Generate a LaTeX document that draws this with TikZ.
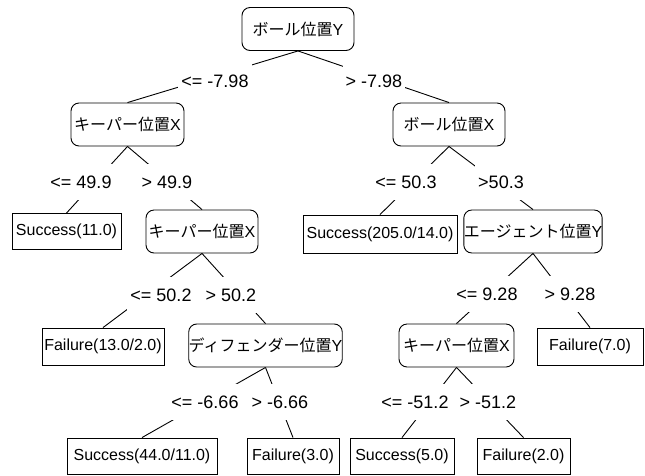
\documentclass[tikz,border=0pt]{standalone}
\usepackage{fontspec}
\setmainfont{Liberation Sans}
\newfontfamily\jp{Noto Sans CJK JP}
\begin{document}
\begin{tikzpicture}[x=1pt,y=-1pt,
  base/.style={draw=black, line width=0.9pt, fill=white, font=\fontsize{16}{18}\selectfont, inner sep=0pt},
  test/.style={base, rounded corners=8pt, minimum height=43pt},
  leaf/.style={base, minimum height=36pt},
  cond/.style={fill=white, font=\fontsize{18}{20}\selectfont, inner xsep=3pt, inner ysep=0pt, minimum height=36pt},
  edge/.style={line width=0.9pt, black}]
\useasboundingbox (0,0) rectangle (645,475);
% internal nodes
\node[test, minimum width=112pt] (root) at (298,29) {{\jp ボール位置}Y};
\node[test, minimum width=113pt] (n1) at (127.5,124.5) {{\jp キーパー位置}X};
\node[test, minimum width=112pt] (n2) at (449,124.5) {{\jp ボール位置}X};
\node[test, minimum width=112pt] (n3) at (202,231.5) {{\jp キーパー位置}X};
\node[test, minimum width=130pt] (n4) at (533,231.5) {{\jp エージェント位置}Y};
\node[test, minimum width=149pt] (n5) at (265.5,345.5) {{\jp ディフェンダー位置}Y};
\node[test, minimum width=115pt] (n6) at (456.5,345.5) {{\jp キーパー位置}X};
% leaves
\node[leaf, minimum width=109pt] (l1) at (66.5,231.5) {Success(11.0)};
\node[leaf, minimum width=154pt, minimum height=38pt] (l2) at (380,234) {Success(205.0/14.0)};
\node[leaf, minimum width=122pt, minimum height=37pt] (l3) at (103,346.5) {Failure(13.0/2.0)};
\node[leaf, minimum width=106pt, minimum height=37pt] (l4) at (590,346.5) {Failure(7.0)};
\node[leaf, minimum width=150pt, minimum height=36pt] (l5) at (142,456) {Success(44.0/11.0)};
\node[leaf, minimum width=92pt, minimum height=36pt] (l6) at (293,456) {Failure(3.0)};
\node[leaf, minimum width=104pt, minimum height=36pt] (l7) at (402,456) {Success(5.0)};
\node[leaf, minimum width=93pt, minimum height=36pt] (l8) at (523.5,456) {Failure(2.0)};
% connectors
\draw[edge] (root.south) -- (n1.north);
\draw[edge] (root.south) -- (n2.north);
\draw[edge] (n1.south) -- (l1.north);
\draw[edge] (n1.south) -- (n3.north);
\draw[edge] (n2.south) -- (l2.north);
\draw[edge] (n2.south) -- (n4.north);
\draw[edge] (n3.south) -- (l3.north);
\draw[edge] (n3.south) -- (n5.north);
\draw[edge] (n4.south) -- (n6.north);
\draw[edge] (n4.south) -- (l4.north);
\draw[edge] (n5.south) -- (l5.north);
\draw[edge] (n5.south) -- (l6.north);
\draw[edge] (n6.south) -- (l7.north);
\draw[edge] (n6.south) -- (l8.north);
% connector labels
\node[cond] (c1) at (215,81) {<= -7.98};
\node[cond] (c2) at (374,81) {> -7.98};
\node[cond] (c3) at (81,182) {<= 49.9};
\node[cond] (c4) at (167,182) {> 49.9};
\node[cond] (c5) at (406,182) {<= 50.3};
\node[cond] (c6) at (501,182) {>50.3};
\node[cond] (c7) at (161,295) {<= 50.2};
\node[cond] (c8) at (231,295) {> 50.2};
\node[cond] (c9) at (487,294) {<= 9.28};
\node[cond] (c10) at (570,294) {> 9.28};
\node[cond] (c11) at (205,402) {<= -6.66};
\node[cond] (c12) at (280,402) {> -6.66};
\node[cond] (c13) at (415,402) {<= -51.2};
\node[cond] (c14) at (488,402) {> -51.2};
\end{tikzpicture}
\end{document}
